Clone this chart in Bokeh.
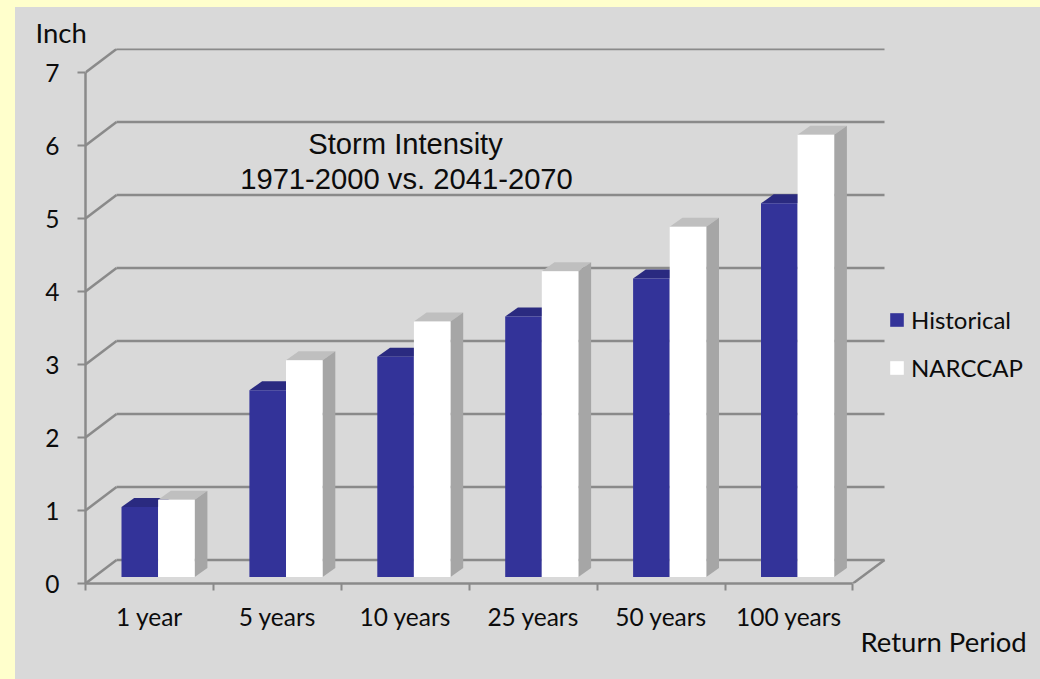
from bokeh.embed import file_html
from bokeh.layouts import column
from bokeh.resources import INLINE
from bokeh.plotting import figure
from bokeh.models import (FixedTicker, Label, Legend, LegendItem,
                          LinearAxis, Range1d, Title)

# Chart values
periods = ["1 year", "5 years", "10 years", "25 years", "50 years", "100 years"]
historical = [0.96, 2.56, 3.02, 3.57, 4.09, 5.12]
narccap = [1.06, 2.97, 3.50, 4.19, 4.80, 6.06]
inch_ticks = [0, 1, 2, 3, 4, 5, 6, 7]

# Page layout, in pixels
W, H = 1040, 679
STRIP_L, STRIP_T = 15, 7   # pale yellow page margin left and above the panel
LEFT, BASE_Y = 85, 583
BACK_X = 884
TOP = 48
CAT_PX = 127.9      # width of one category
INCH_PX = 73.0      # height of one inch

# Oblique projection offsets, in pixels
WALL_DX, WALL_DY = 31, 23.5     # front plane to back wall
BAR_X0 = 36.0                   # left edge of first bar from the axis
BAR_W = 36.6                    # bar width
BAR_LIFT = 6.4                  # bar foot above the front floor edge
DEPTH_DX, DEPTH_DY = 12.7, 9.0  # bar depth

AXIS_COLOR = "#8a8a8a"
AXIS_WIDTH = 2.5
TEXT_COLOR = "#0c0c0c"
PANEL = "#D9D9D9"
FONT = "Lato"

xu = 1 / CAT_PX
yu = 1 / INCH_PX

# The frame runs to the right edge of the page so the legend sits inside it
p = figure(width=W - STRIP_L, height=H - STRIP_T, output_backend="svg",
           toolbar_location=None, x_axis_location=None, y_axis_location=None,
           x_range=Range1d(0, (W - LEFT) * xu),
           y_range=Range1d(0, (BASE_Y - TOP) * yu),
           frame_width=W - LEFT, frame_height=BASE_Y - TOP,
           min_border_left=LEFT - STRIP_L, min_border_right=0,
           min_border_top=TOP - STRIP_T, min_border_bottom=H - BASE_Y,
           margin=(STRIP_T, 0, 0, STRIP_L),
           styles={"background-color": PANEL})
p.grid.visible = False
p.outline_line_color = None
p.background_fill_color = PANEL
p.border_fill_color = PANEL

# Back wall, side wall and floor lines
n = len(periods)
wx, wy = WALL_DX * xu, WALL_DY * yu
right_end = (BACK_X - LEFT) * xu
p.segment(x0=[wx] * len(inch_ticks), y0=[v + wy for v in inch_ticks],
          x1=[right_end] * len(inch_ticks), y1=[v + wy for v in inch_ticks],
          line_color=AXIS_COLOR, line_width=AXIS_WIDTH)
p.segment(x0=[0] * len(inch_ticks), y0=inch_ticks,
          x1=[wx] * len(inch_ticks), y1=[v + wy for v in inch_ticks],
          line_color=AXIS_COLOR, line_width=AXIS_WIDTH)
p.segment(x0=[n], y0=[0], x1=[right_end], y1=[wy],
          line_color=AXIS_COLOR, line_width=AXIS_WIDTH)

# Axes
yaxis = LinearAxis(ticker=FixedTicker(ticks=inch_ticks), bounds=(0, 7))
yaxis.axis_line_color = AXIS_COLOR
yaxis.axis_line_width = AXIS_WIDTH
yaxis.major_tick_line_color = AXIS_COLOR
yaxis.major_tick_line_width = 2
yaxis.major_tick_in = 0
yaxis.major_tick_out = 8
yaxis.minor_tick_line_color = None
yaxis.major_label_standoff = 18
yaxis.major_label_text_font = FONT
yaxis.major_label_text_font_size = "24.5px"
yaxis.major_label_text_color = TEXT_COLOR
p.add_layout(yaxis, "left")

centers = [i + 0.5 for i in range(n)]
xaxis = LinearAxis(ticker=FixedTicker(ticks=centers, minor_ticks=list(range(n + 1))),
                   bounds=(0, n))
xaxis.major_label_overrides = dict(zip(centers, periods))
xaxis.axis_line_color = AXIS_COLOR
xaxis.axis_line_width = AXIS_WIDTH
xaxis.major_tick_line_color = None
xaxis.major_tick_in = 0
xaxis.major_tick_out = 0
xaxis.minor_tick_line_color = AXIS_COLOR
xaxis.minor_tick_line_width = 2
xaxis.minor_tick_in = 0
xaxis.minor_tick_out = 7
xaxis.major_label_standoff = 11
xaxis.major_label_text_font = FONT
xaxis.major_label_text_font_size = "24.5px"
xaxis.major_label_text_color = TEXT_COLOR
p.add_layout(xaxis, "below")

# Bars: front faces through the vbar glyph, top and side faces as patches
lift = BAR_LIFT * yu
dx, dy = DEPTH_DX * xu, DEPTH_DY * yu
bw = BAR_W * xu
hist_left = [i + BAR_X0 * xu for i in range(n)]
narc_left = [x + bw for x in hist_left]


def top_faces(lefts, values):
    xs = [[x, x + bw, x + bw + dx, x + dx] for x in lefts]
    ys = [[v + lift, v + lift, v + lift + dy, v + lift + dy] for v in values]
    return xs, ys


hx, hy = top_faces(hist_left, historical)
p.patches(hx, hy, fill_color="#2A2A80", line_color=None)
hist_bars = p.vbar(x=[x + bw / 2 for x in hist_left], width=bw, bottom=lift,
                   top=[v + lift for v in historical],
                   fill_color="#333399", line_color=None)

nx, ny = top_faces(narc_left, narccap)
p.patches(nx, ny, fill_color="#BFBFBF", line_color=None)
side_x = [[x + bw, x + bw + dx, x + bw + dx, x + bw] for x in narc_left]
side_y = [[lift, lift + dy, v + lift + dy, v + lift] for v in narccap]
p.patches(side_x, side_y, fill_color="#A6A6A6", line_color=None)
narc_bars = p.vbar(x=[x + bw / 2 for x in narc_left], width=bw, bottom=lift,
                   top=[v + lift for v in narccap],
                   fill_color="#FFFFFF", line_color=None)

# Legend, inside the frame to the right of the back wall
legend = Legend(items=[LegendItem(label="Historical", renderers=[hist_bars]),
                       LegendItem(label="NARCCAP", renderers=[narc_bars])],
                location=(888 - LEFT, 201), orientation="vertical",
                glyph_width=17, glyph_height=17, label_height=17, label_width=100,
                spacing=19, padding=0, margin=0, label_standoff=6,
                background_fill_alpha=0, border_line_color=None,
                label_text_font=FONT, label_text_font_size="24px",
                label_text_color=TEXT_COLOR)
p.add_layout(legend, "center")


def side_title(text, x, place, standoff):
    p.add_layout(Title(text=text, align="left", offset=x - LEFT, standoff=standoff,
                       text_font=FONT, text_font_size="27.5px", text_font_style="normal",
                       text_color=TEXT_COLOR), place)


side_title("Inch", 35, "above", 0)
side_title("Return Period", 860, "below", -21)


def chart_label(text, x, y):
    p.add_layout(Label(x=x - LEFT, y=BASE_Y - y, x_units="screen", y_units="screen",
                       text=text, text_font="Liberation Sans", text_font_size="29.2px",
                       text_color=TEXT_COLOR, text_align="center",
                       text_baseline="middle"))


chart_label("Storm Intensity", 405, 143)
chart_label("1971-2000 vs. 2041-2070", 406, 178)

page = column(p, styles={"background-color": "#FFFFCC"}, width=W, height=H)
open("out.html", "w").write(file_html(page, INLINE))
